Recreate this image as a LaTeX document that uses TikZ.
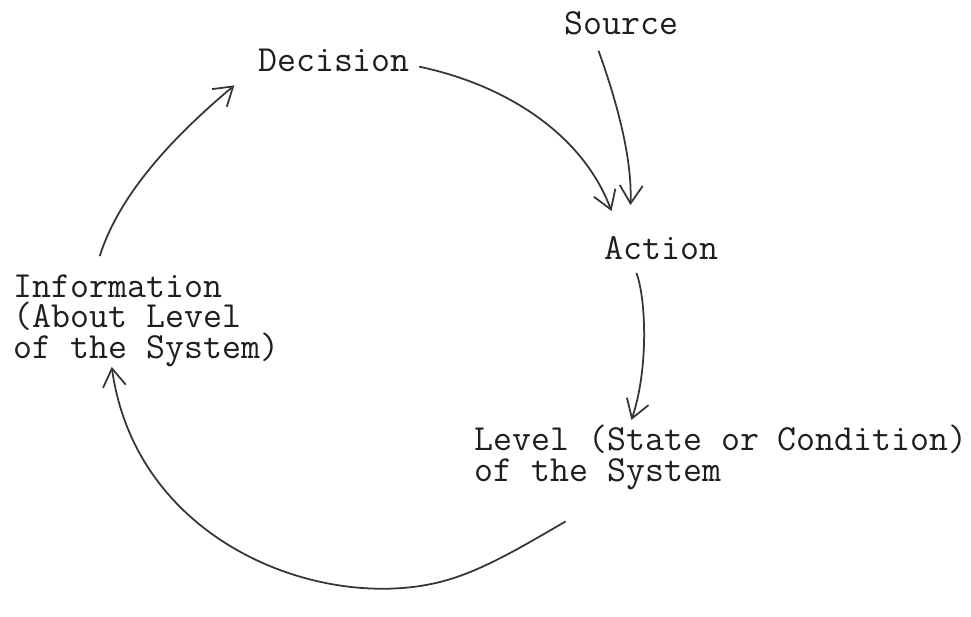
\documentclass[tikz,border=0pt]{standalone}
\usepackage{fontspec}
\usepackage{xcolor}
\usetikzlibrary{arrows.meta}
\definecolor{Paper}{HTML}{FFFFFF}
\definecolor{Ink}{HTML}{1E1E1E}
\definecolor{Pencil}{HTML}{353535}
\begin{document}
\begin{tikzpicture}[x=0.02cm,y=-0.02cm,term/.style={anchor=base west,inner sep=2pt,text=Ink,align=left,font=\ttfamily\fontsize{21}{17.4}\selectfont},link/.style={draw=Pencil,line width=1pt,-{Straight Barb[length=3.6mm,width=4.6mm]}}]
\fill[Paper] (0,0) rectangle (971,593);
\node[term] (source) at (562,35) {Source};
\node[term] (decision) at (255,72) {Decision};
\node[term] (action) at (602,260) {Action};
\node[term] (info) at (10,359) {Information\\(About Level\\of the System)};
\node[term] (level) at (472,482.5) {Level (State or Condition)\\of the System};
\draw[link] ([shift={(5.5,6)}]decision.east) .. controls +(90,19) and +(-28,-75) .. ([shift={(11,-21.5)}]action.north west);
\draw[link] ([shift={(38,11.5)}]source.south west) .. controls +(18,50) and +(2,-47) .. ([shift={(30,-27.5)}]action.north west);
\draw[link] ([shift={(36,9.5)}]action.south west) .. controls +(10,27) and +(17,-50) .. ([shift={(161,-1.5)}]level.north west);
\draw[link] ([shift={(95,28)}]level.south west) .. controls +(-35,20) and +(40,-12) .. (450,581) .. controls +(-120,36) and +(25,180) .. ([shift={(102,-3.5)}]info.south west);
\draw[link] ([shift={(90,-14.5)}]info.north west) .. controls +(17,-54) and +(-73,61) .. ([shift={(-20,9.5)}]decision.south west);
\end{tikzpicture}
\end{document}
